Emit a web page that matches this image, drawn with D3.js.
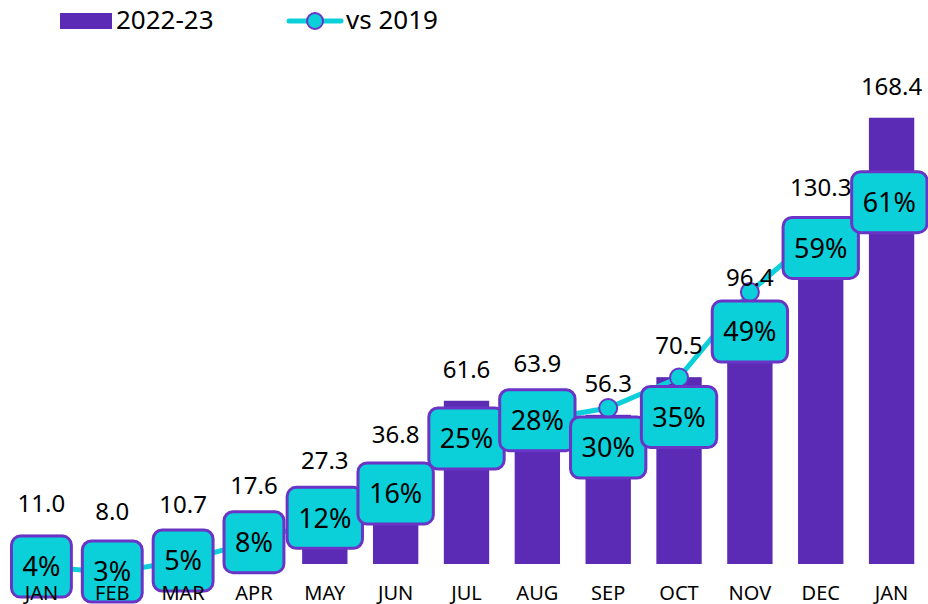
<!DOCTYPE html>
<html>
<head>
<meta charset="utf-8">
<script src="https://cdn.jsdelivr.net/npm/d3@7"></script>
<style>
  html, body { margin: 0; padding: 0; background: #fff; }
  svg { display: block; font-family: "Noto Sans", sans-serif; }
</style>
</head>
<body>
<div id="chart"></div>
<script>
// chart data
var months = ['JAN', 'FEB', 'MAR', 'APR', 'MAY', 'JUN', 'JUL', 'AUG', 'SEP', 'OCT', 'NOV', 'DEC', 'JAN'];
var values = [11.0, 8.0, 10.7, 17.6, 27.3, 36.8, 61.6, 63.9, 56.3, 70.5, 96.4, 130.3, 168.4];
var vs2019 = [4, 3, 5, 8, 12, 16, 25, 28, 30, 35, 49, 59, 61];
var seriesNames = ['2022-23', 'vs 2019'];

var width = 928, height = 604;
var purple = '#5b2bb5', cyan = '#0bd0da', edge = '#6a35c6';
var boxH = 61, boxPadX = 11, dotR = 9, labelGap = 23;

var svg = d3.select('#chart').append('svg')
	.attr('width', width)
	.attr('height', height);

var idx = d3.range(months.length);
var x = d3.scaleBand().domain(idx).range([6, 927]).paddingInner(0.36).paddingOuter(0.18);
var yVal = d3.scaleLinear().domain([0, 180]).range([564, 87]);
var yPct = d3.scaleLinear().domain([0, 70]).range([591, 164]);
function cx(i) { return x(i) + x.bandwidth() / 2; }

// bars
svg.append('g').selectAll('rect')
	.data(values)
	.enter().append('rect')
	.attr('x', function(d, i) { return x(i); })
	.attr('y', function(d) { return yVal(d); })
	.attr('width', x.bandwidth())
	.attr('height', function(d) { return yVal(0) - yVal(d); })
	.attr('fill', purple);

// line + dots
var line = d3.line()
	.x(function(d, i) { return cx(i); })
	.y(function(d) { return yPct(d); });
svg.append('path')
	.datum(vs2019)
	.attr('d', line)
	.attr('fill', 'none')
	.attr('stroke', cyan)
	.attr('stroke-width', 5);
svg.append('g').selectAll('circle')
	.data(vs2019)
	.enter().append('circle')
	.attr('cx', function(d, i) { return cx(i); })
	.attr('cy', function(d) { return yPct(d); })
	.attr('r', dotR)
	.attr('fill', cyan)
	.attr('stroke', edge)
	.attr('stroke-width', 2);

// percent boxes: centred on the point, moved below it if they hit the bar label
var pg = svg.append('g');
var labels = vs2019.map(function(d, i) {
	var g = pg.append('g');
	var t = g.append('text')
		.attr('text-anchor', 'middle')
		.attr('dy', '0.36em')
		.attr('font-size', 27)
		.attr('fill', '#000')
		.text(d + '%');
	var w = t.node().getComputedTextLength() + boxPadX * 2;
	var py = yPct(d);
	var cy = py;
	var baseline = yVal(values[i]) - labelGap;
	if (cy - boxH / 2 < baseline) {
		cy = py + dotR + boxH / 2;
	}
	return { g: g, w: w, cx: cx(i), cy: cy, centred: cy === py };
});

// spread two centred boxes that sit almost level with each other
for (var i = 0; i < labels.length - 1; i++) {
	var a = labels[i], b = labels[i + 1];
	var overlapX = (a.cx + a.w / 2) - (b.cx - b.w / 2);
	var dy = Math.abs(a.cy - b.cy);
	if (a.centred && b.centred && overlapX > 0 && dy < boxH * 0.25) {
		var push = (boxH * 0.75 - dy) / 2;
		if (a.cy >= b.cy) { a.cy += push; b.cy -= push; }
		else { a.cy -= push; b.cy += push; }
	}
}

labels.forEach(function(l) {
	var left = Math.min(l.cx - l.w / 2, width - 1 - l.w);
	var top = Math.min(l.cy - boxH / 2, height - 2 - boxH);
	l.g.insert('rect', 'text')
		.attr('x', left)
		.attr('y', top)
		.attr('width', l.w)
		.attr('height', boxH)
		.attr('rx', 9)
		.attr('fill', cyan)
		.attr('stroke', edge)
		.attr('stroke-width', 3);
	l.g.select('text')
		.attr('x', left + l.w / 2)
		.attr('y', top + boxH / 2);
});

// value labels above bars
svg.append('g').selectAll('text')
	.data(values)
	.enter().append('text')
	.attr('x', function(d, i) { return cx(i); })
	.attr('y', function(d) { return yVal(d) - labelGap; })
	.attr('text-anchor', 'middle')
	.attr('font-size', 24)
	.attr('fill', '#000')
	.text(function(d) { return d.toFixed(1); });

// category labels
svg.append('g').selectAll('text')
	.data(months)
	.enter().append('text')
	.attr('x', function(d, i) { return cx(i); })
	.attr('y', 600)
	.attr('text-anchor', 'middle')
	.attr('font-size', 20)
	.attr('fill', '#000')
	.text(function(d) { return d; });

// legend
var lg = svg.append('g');
lg.append('rect')
	.attr('x', 60).attr('y', 13)
	.attr('width', 52).attr('height', 16)
	.attr('fill', purple);
lg.append('text')
	.attr('x', 116).attr('y', 29)
	.attr('font-size', 26)
	.text(seriesNames[0]);
lg.append('line')
	.attr('x1', 289).attr('x2', 341)
	.attr('y1', 21).attr('y2', 21)
	.attr('stroke', cyan)
	.attr('stroke-width', 5)
	.attr('stroke-linecap', 'round');
lg.append('circle')
	.attr('cx', 315).attr('cy', 21)
	.attr('r', 8)
	.attr('fill', cyan)
	.attr('stroke', edge)
	.attr('stroke-width', 2);
lg.append('text')
	.attr('x', 346).attr('y', 29)
	.attr('font-size', 26)
	.text(seriesNames[1]);
</script>
</body>
</html>
